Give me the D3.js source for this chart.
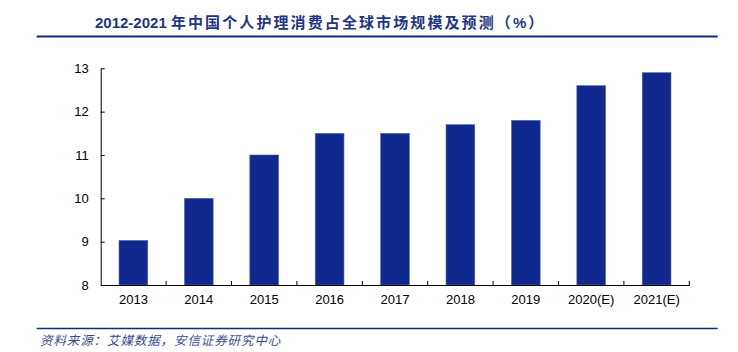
<!DOCTYPE html>
<html><head><meta charset="utf-8">
<script src="https://cdn.jsdelivr.net/npm/d3@7/dist/d3.min.js"></script>
<style>body{margin:0;background:#fff}svg{display:block}</style>
</head><body><svg id="c" width="738" height="352"></svg>
<script>
const categories = ["2013","2014","2015","2016","2017","2018","2019","2020(E)","2021(E)"];
const values = [9.03, 10.0, 11.0, 11.5, 11.5, 11.7, 11.8, 12.6, 12.9];
const yTicks = [8, 9, 10, 11, 12, 13];
const titleYears = "2012-2021 ";
const titleText = "年中国个人护理消费占全球市场规模及预测（%）";
const sourceText = "资料来源：艾媒数据，安信证券研究中心";

const svg = d3.select("#c");
const pLeft = 100.7, pRight = 689.3, pTop = 68.3, pBottom = 285;
const x = d3.scaleBand().domain(categories).range([pLeft, pRight]).paddingInner(0.56).paddingOuter(0.28);
const y = d3.scaleLinear().domain([8, 13]).range([pBottom, pTop]);

// title
const t = svg.append("text").attr("x", 95).attr("y", 28)
  .attr("font-family", "Arial, 'Liberation Sans', 'Noto Sans CJK SC', sans-serif")
  .attr("font-weight", "bold").attr("font-size", 15).attr("fill", "#1F3586");
t.append("tspan").text(titleYears);
t.append("tspan").attr("letter-spacing", 2.1).text(titleText);
svg.append("line").attr("x1", 36.7).attr("x2", 717.7).attr("y1", 36.5).attr("y2", 36.5)
  .attr("stroke", "#0C2C84").attr("stroke-width", 2);

// bars
svg.append("g").selectAll("rect").data(values).join("rect")
  .attr("x", (d, i) => x(categories[i]))
  .attr("width", x.bandwidth())
  .attr("y", d => y(d))
  .attr("height", d => y(8) - y(d))
  .attr("fill", "#10298F").attr("stroke", "#5a6bb0").attr("stroke-width", 0.6);

// y axis
const yAxis = d3.axisLeft(y).tickValues(yTicks).tickFormat(d3.format("d"))
  .tickSize(-4).tickPadding(12).tickSizeOuter(0);
const gy = svg.append("g").attr("transform", `translate(${pLeft},0)`).call(yAxis);
gy.selectAll("text").attr("font-family", "Arial, 'Liberation Sans', sans-serif").attr("font-size", 13).attr("fill", "#000");
gy.select(".domain").attr("stroke", "#000");
gy.selectAll(".tick line").attr("stroke", "#000");

// x axis
const xAxis = d3.axisBottom(x).tickSize(0).tickPadding(10).tickSizeOuter(0);
const gx = svg.append("g").attr("transform", `translate(0,${pBottom})`).call(xAxis);
gx.selectAll("text").attr("font-family", "Arial, 'Liberation Sans', sans-serif").attr("font-size", 13).attr("fill", "#000");
gx.select(".domain").attr("stroke", "#000");
const step = x.step();
gx.append("g").selectAll("line").data(categories).join("line")
  .attr("x1", c => x(c) + x.bandwidth() / 2 + step / 2)
  .attr("x2", c => x(c) + x.bandwidth() / 2 + step / 2)
  .attr("y1", 0).attr("y2", -4).attr("stroke", "#000");

// footer
svg.append("line").attr("x1", 36.7).attr("x2", 717.7).attr("y1", 328.5).attr("y2", 328.5)
  .attr("stroke", "#0C2C84").attr("stroke-width", 1.6);
svg.append("text").attr("x", 40).attr("y", 345)
  .attr("font-family", "'Noto Sans CJK SC', sans-serif").attr("font-style", "italic")
  .attr("font-size", 12.5).attr("fill", "#3A4C8C").attr("letter-spacing", 0.9)
  .text(sourceText);
</script></body></html>
